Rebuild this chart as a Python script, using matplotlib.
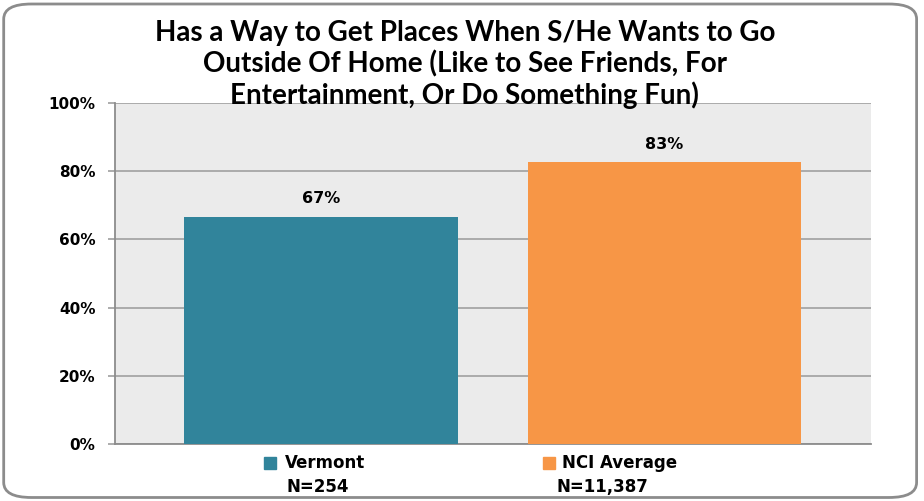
import matplotlib.pyplot as plt
from matplotlib.patches import FancyBboxPatch
from matplotlib.ticker import MultipleLocator, FuncFormatter

groups = ['Vermont', 'NCI Average']
sizes = ['N=254', 'N=11,387']
values = [66.6, 82.6]
colors = ['#31849B', '#F79646']

title = ('Has a Way to Get Places When S/He Wants to Go\n'
         'Outside Of Home (Like to See Friends, For\n'
         'Entertainment, Or Do Something Fun)')

plt.rcParams['font.family'] = ['DejaVu Sans']

fig = plt.figure(figsize=(9.24, 5.01), dpi=100)
# rounded chart border
fig.patches.append(FancyBboxPatch((0.004, 0.007), 0.988, 0.985,
                                  boxstyle='round,pad=0,rounding_size=0.03',
                                  transform=fig.transFigure, fill=False,
                                  edgecolor='#8C8C8C', linewidth=2))

ax = fig.add_axes([0.1245, 0.1138, 0.818, 0.6806])
ax.set_facecolor('#EBEBEB')

w = 0.7977
x = range(len(values))
ax.bar(x, values, width=w, color=colors, zorder=3)
ax.set_xlim(-w / 2 - (1 - w), 1 + w / 2 + (1 - w))
ax.set_ylim(0, 100)

ax.yaxis.set_major_locator(MultipleLocator(20))
ax.yaxis.set_major_formatter(FuncFormatter(lambda v, p: '%d%%' % v))
ax.yaxis.grid(True, color='#A6A6A6', linewidth=1.3, zorder=0)
ax.tick_params(axis='y', length=5, width=1.3, color='#A6A6A6', pad=9,
               labelsize=11)
for lab in ax.get_yticklabels():
    lab.set_fontweight('bold')
ax.set_xticks([])

for s in ['top', 'right']:
    ax.spines[s].set_visible(False)
ax.spines['left'].set_color('#8C8C8C')
ax.spines['left'].set_linewidth(1.3)
ax.spines['bottom'].set_color('#8C8C8C')
ax.spines['bottom'].set_linewidth(1.3)

for xi, v in zip(x, values):
    ax.annotate('%.0f%%' % v, (xi, v), xytext=(0, 13), textcoords='offset points',
                ha='center', va='center', fontsize=11.5, fontweight='bold')

# category labels drawn like a legend under the axis
square_x = [0.2044, 0.574]
text_x = [0.2249, 0.5913]
n_x = [0.2685, 0.6455]
for sx, tx, nx, g, n, c in zip(square_x, text_x, n_x, groups, sizes, colors):
    ax.plot([sx], [-0.0557], marker='s', markersize=8, color=c,
            transform=ax.transAxes, clip_on=False)
    ax.text(tx, -0.0557, g, transform=ax.transAxes, fontsize=12,
            fontweight='bold', ha='left', va='center')
    ax.text(nx, -0.126, n, transform=ax.transAxes, fontsize=12,
            fontweight='bold', ha='center', va='center')

fig.text(0.503, 0.871, title, ha='center', va='center', fontsize=20,
         fontweight='bold', linespacing=1.2, family=['Lato', 'DejaVu Sans'])

fig.savefig('out.png', dpi=100)
